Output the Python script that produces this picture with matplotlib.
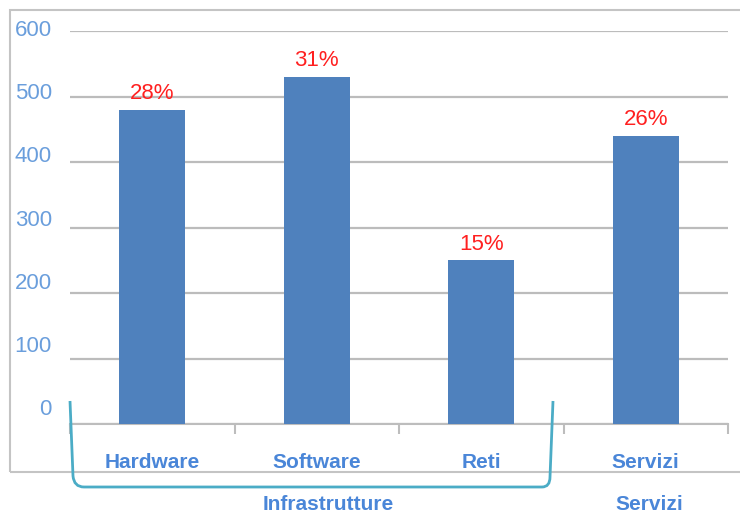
import matplotlib.pyplot as plt
from matplotlib.path import Path
from matplotlib.patches import PathPatch, Rectangle
from matplotlib.transforms import ScaledTranslation

categories = ['Hardware', 'Software', 'Reti', 'Servizi']
values = [480, 530, 250, 440]
shares = ['28%', '31%', '15%', '26%']
groups = ['Infrastrutture', 'Infrastrutture', 'Infrastrutture', 'Servizi']
yticks = [0, 100, 200, 300, 400, 500, 600]

W, H = 740, 516
plt.rcParams['font.family'] = ['Liberation Sans', 'DejaVu Sans']

fig = plt.figure(figsize=(W / 100, H / 100), dpi=100)
fig.patch.set_facecolor('white')

def px(x, y):
    # pixel coords (top-left origin) -> figure fraction
    return (x / W, 1 - y / H)

# outer chart frame
fig.patches.append(Rectangle(px(10, 472), 740 / W, 462 / H, transform=fig.transFigure,
                             fill=False, edgecolor='#c4c4c4', linewidth=1.5, clip_on=False))

ax = fig.add_axes([70 / W, 1 - 424 / H, 658 / W, 393 / H])
x = list(range(len(categories)))
bars = ax.bar(x, values, width=0.4, color='#4f81bd', zorder=3)

ax.set_xlim(-0.5, len(categories) - 0.5)
ax.set_ylim(0, 600)
ax.set_yticks(yticks)
ax.yaxis.grid(True, color='#bcbcbc', linewidth=1.6)
ax.set_axisbelow(True)
for s in ['top', 'right', 'left']:
    ax.spines[s].set_visible(False)
ax.spines['bottom'].set_color('#bdbdbd')
ax.spines['bottom'].set_linewidth(1.5)

ax.tick_params(axis='y', length=0, pad=13, labelsize=16, labelcolor='#6a9edc')
for lab, v in zip(ax.get_yticklabels(), yticks):
    off = (3 + 14 * (600 - v) / 600) / 100
    lab.set_transform(lab.get_transform() + ScaledTranslation(0, off, fig.dpi_scale_trans))

ax.set_xticks(x)
ax.set_xticklabels(categories, fontweight='bold')
ax.tick_params(axis='x', length=0, pad=21, labelsize=15, labelcolor='#4a86d8')
ax.set_xticks([i - 0.5 for i in range(len(categories) + 1)], minor=True)
ax.tick_params(axis='x', which='minor', length=7, width=1.5, color='#bdbdbd')

for b, s in zip(bars, shares):
    ax.annotate(s, (b.get_x() + b.get_width() / 2, b.get_height()), xytext=(0, 4),
                textcoords='offset points', ha='center', va='bottom',
                fontsize=16, color='#ff2020')

# group labels under the categories
seen = []
for g in groups:
    if g in seen:
        continue
    seen.append(g)
    idx = [i for i, gg in enumerate(groups) if gg == g]
    xc = sum(idx) / len(idx)
    ax.text(xc + (0.07 if len(idx) > 1 else 0.02), -0.205, g, transform=ax.get_xaxis_transform(),
            ha='center', va='center', fontsize=15, fontweight='bold', color='#4a86d8')

# bracket around the infrastructure group
pts = [(70, 401), (73, 476), (74, 487), (84, 487), (542, 487), (550, 487),
       (550, 477), (553, 401)]
codes = [Path.MOVETO, Path.LINETO, Path.CURVE3, Path.CURVE3, Path.LINETO,
         Path.CURVE3, Path.CURVE3, Path.LINETO]
path = Path([px(*p) for p in pts], codes)
fig.patches.append(PathPatch(path, transform=fig.transFigure, fill=False,
                             edgecolor='#4bacc6', linewidth=2, clip_on=False))

fig.savefig('out.png', dpi=100)
